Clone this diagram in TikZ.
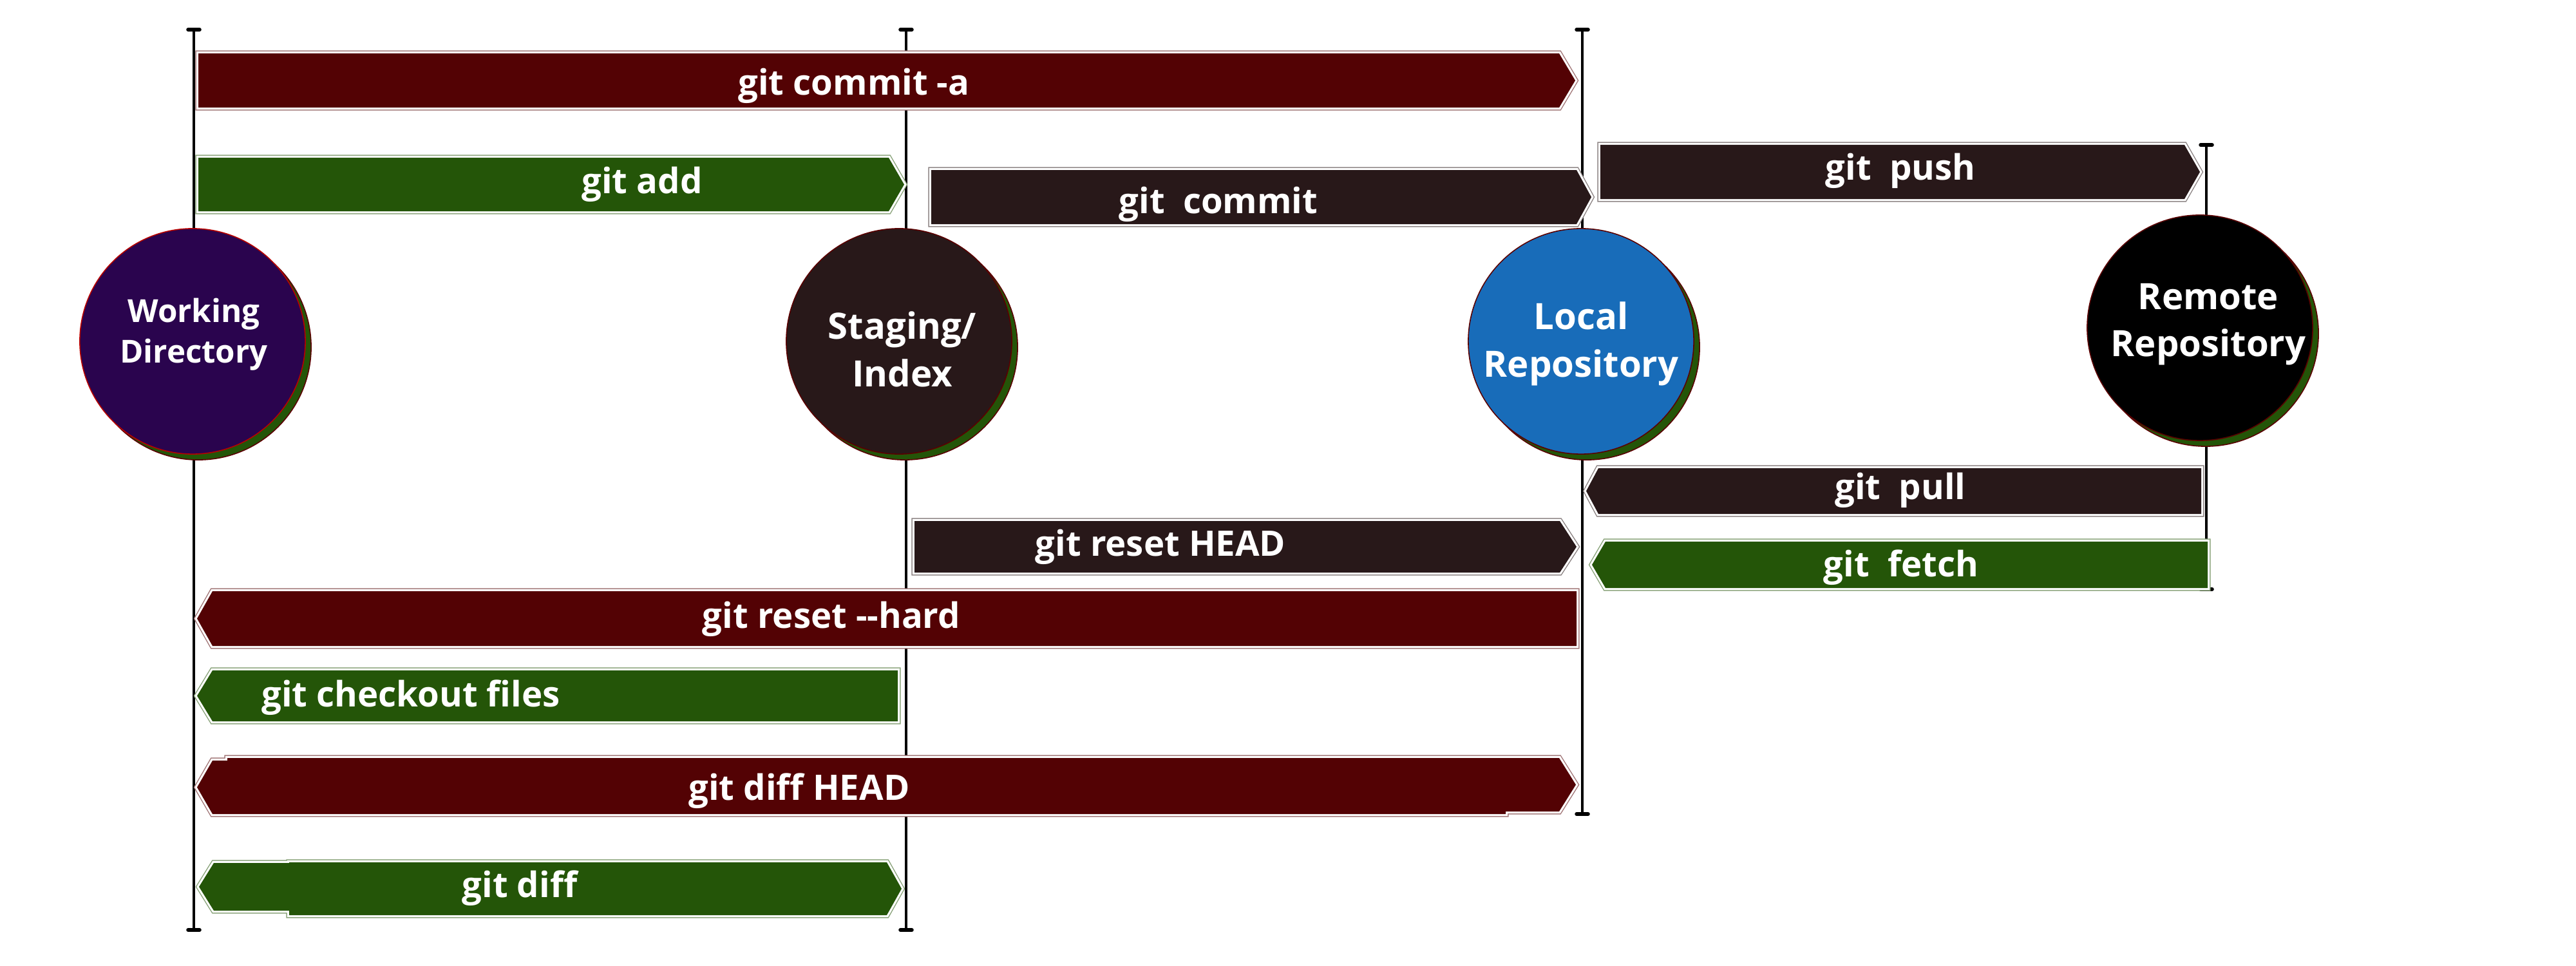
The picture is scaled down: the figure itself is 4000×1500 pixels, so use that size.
\documentclass[tikz,border=0pt]{standalone}
\usepackage{fontspec}
\setmainfont{Open Sans}
\usetikzlibrary{arrows.meta,shadows}
\definecolor{barred}{HTML}{530204}
\definecolor{bargreen}{HTML}{245508}
\definecolor{bardark}{HTML}{281819}
\definecolor{wdpurple}{HTML}{2A044E}
\definecolor{lrblue}{HTML}{186CB9}
\definecolor{hubedge}{HTML}{5A0000}
\definecolor{wdedge}{HTML}{B80000}

\begin{document}
\begin{tikzpicture}[x=0.01cm, y=-0.01cm,
  pole/.style={line width=1.1pt,
    arrows={Bar[width=5pt,line width=1.7pt,round]-Bar[width=5pt,line width=1.7pt,round]}},
  bar/.style={preaction={draw=#1!55!white, line width=2.6pt},
    preaction={draw=white, line width=1.8pt}, fill=#1},
  hub/.style={circle, minimum size=3.5cm, inner sep=0pt, fill=#1, draw=hubedge,
    line width=0.45pt, drop shadow={shadow xshift=0.09cm, shadow yshift=-0.09cm,
    opacity=1, fill=bargreen, draw=hubedge}},
  hubtext/.style={align=center, text=white, inner sep=0pt,
    font=\bfseries\fontsize{16}{21}\selectfont},
  lbl/.style={anchor=base, text=white, inner sep=0pt,
    font=\bfseries\fontsize{15.5}{18}\selectfont}]
  \useasboundingbox (0,0) rectangle (4000,1500);

  % --- poles ---
  \foreach \nm/\x/\ya/\yb in {wd/301/43/1447, st/1407/43/1447,
    lr/2457/43/1267, rr/3426/222/918}{
    \coordinate (\nm top) at (\x,\ya);
    \coordinate (\nm bot) at (\x,\yb);
    \draw[pole] (\nm top) -- (\nm bot);
  }

  % --- commands ---
  \foreach \l/\r/\t/\b/\dl/\dr/\c in {308/2446/83/167/0/25/barred,
    308/1404/245/328/0/24/bargreen, 1446/2471/264/348/0/23/bardark,
    2485/3416/225/309/0/24/bardark, 2463/3418/727/798/19/0/bardark,
    2472/3428/841/913/21/0/bargreen, 1420/2448/809/889/0/26/bardark,
    306/2448/918/1003/24/0/barred, 306/1394/1041/1120/24/0/bargreen}{
    \path[bar=\c] (\l+\dl,\t) -- (\r-\dr,\t) -- (\r,{(\t+\b)/2})
      -- (\r-\dr,\b) -- (\l+\dl,\b) -- (\l,{(\t+\b)/2}) -- cycle;
  }
  % diff bars, two shapes each
  \path[bar=barred] (330,1181) -- (2338,1181) -- (2338,1264) -- (330,1264)
      -- (306,1222.5) -- cycle
    (353,1177) -- (2421,1177) -- (2447,1218.5) -- (2421,1260) -- (353,1260) -- cycle;
  \path[bar=bargreen] (332,1340) -- (1321,1340) -- (1321,1414) -- (332,1414)
      -- (309,1377) -- cycle
    (449,1339) -- (1377,1339) -- (1400,1380) -- (1377,1421) -- (449,1421) -- cycle;

  \foreach \nm/\x/\y/\txt in {cma/1326/148/{git commit -a}, add/997/300/{git add},
    cmt/1892/331/{git\ \ commit}, push/2951/279/{git\ \ push},
    pull/2951/775/{git\ \ pull}, fetch/2952/895/{git\ \ fetch},
    rhead/1802/863/{git reset HEAD}, rhard/1291/975/{git reset -{}-hard},
    chk/638/1097/{git checkout files}, dhead/1241/1242/{git diff HEAD},
    diff/807/1393/{git diff}}{
    \node[lbl] (\nm) at (\x,\y) {\txt};
  }

  % --- areas ---
  \node[hub=wdpurple, draw=wdedge] (wd) at (299,530) {};
  \node[hub=bardark] (st) at (1396,530) {};
  \node[hub=lrblue] (lr) at (2455,530) {};
  \node[hub=black] (rr) at (3416,509) {};
  \node[hubtext, font=\bfseries\fontsize{14}{17.9}\selectfont] (wdtxt) at (301,519)
    {Working\\Directory};
  \node[hubtext] (sttxt) at (1401,542) {Staging/\\Index};
  \node[hubtext] (lrtxt) at (2455,534) {Local\\Repository};
  \node[hubtext, font=\bfseries\fontsize{16}{20.8}\selectfont] (rrtxt) at (3429,504)
    {Remote\\Repository};
\end{tikzpicture}
\end{document}
